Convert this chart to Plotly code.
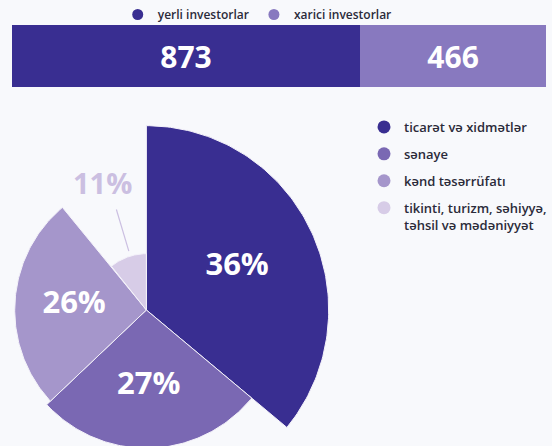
import numpy as np
import plotly.graph_objects as go

# ---- data ----
investor_labels = ["yerli investorlar", "xarici investorlar"]
investor_values = [873, 466]

sector_labels = ["ticarət və xidmətlər", "sənaye", "kənd təsərrüfatı",
                 "tikinti, turizm, səhiyyə,<br>təhsil və mədəniyyət"]
sector_values = [36, 27, 26, 11]

# ---- styles ----
investor_colors = ["#392e91", "#8879bf"]
sector_colors = ["#392e91", "#7a68b3", "#a596cb", "#d7cce7"]
label_colors = ["#ffffff", "#ffffff", "#ffffff", "#cbbfe1"]
BG = "#f8f9fc"
FONT = "Open Sans"

W, H = 552, 446
PX = 5.12            # pixels per radial unit of the pie
CX, CY = 148, 310    # pie centre in pixels (from top-left)

fig = go.Figure()

# ---- top stacked bar ----
for lab, val, col in zip(investor_labels, investor_values, investor_colors):
    fig.add_trace(go.Bar(
        x=[val], y=[0], orientation="h", marker=dict(color=col, line=dict(width=0)),
        text=[str(val)], textposition="inside", insidetextanchor="middle",
        textfont=dict(family=FONT, size=30, color="white", weight=700),
        xaxis="x", yaxis="y", showlegend=False, hoverinfo="skip"))
    fig.add_trace(go.Scatter(
        x=[None], y=[None], mode="markers", name=lab,
        marker=dict(color=col, size=11, symbol="circle"),
        xaxis="x", yaxis="y", legend="legend"))

# ---- variable-radius pie ----
total = sum(sector_values)
cum = np.concatenate([[0], np.cumsum(sector_values)]) / total * 360.0
for i, (lab, val, col) in enumerate(zip(sector_labels, sector_values, sector_colors)):
    a0, a1 = cum[i], cum[i + 1]
    th = np.radians(np.linspace(a0, a1, 120))
    r = val
    xs = np.concatenate([[0], r * np.sin(th), [0]])
    ys = np.concatenate([[0], r * np.cos(th), [0]])
    fig.add_trace(go.Scatter(
        x=xs, y=ys, mode="lines", fill="toself", fillcolor=col,
        line=dict(color="#f4f2fa", width=1), xaxis="x2", yaxis="y2",
        showlegend=False, hoverinfo="skip"))
    fig.add_trace(go.Scatter(
        x=[None], y=[None], mode="markers", name=lab, legendgroup=f"g{i}",
        marker=dict(color=col, size=13, symbol="circle"),
        xaxis="x2", yaxis="y2", legend="legend2"))

# labels
for i, val in enumerate(sector_values):
    mid = np.radians((cum[i] + cum[i + 1]) / 2)
    txt = f"{val}%"
    if val >= 15:
        rl = val * 0.55
        fig.add_trace(go.Scatter(
            x=[rl * np.sin(mid)], y=[rl * np.cos(mid)], mode="text", text=[txt],
            textfont=dict(family=FONT, size=31, color=label_colors[i], weight=700),
            xaxis="x2", yaxis="y2", showlegend=False, hoverinfo="skip"))
    else:
        ang = mid + np.radians(3)
        r_in, r_out, r_lab = val + 1.0, val + 9.5, val + 14.5
        fig.add_trace(go.Scatter(
            x=[r_in * np.sin(ang), r_out * np.sin(ang)],
            y=[r_in * np.cos(ang), r_out * np.cos(ang)],
            mode="lines", line=dict(color=label_colors[i], width=1.2),
            xaxis="x2", yaxis="y2", showlegend=False, hoverinfo="skip"))
        fig.add_trace(go.Scatter(
            x=[r_lab * np.sin(mid)], y=[r_lab * np.cos(mid)], mode="text", text=[txt],
            textfont=dict(family=FONT, size=29, color=label_colors[i], weight=700),
            xaxis="x2", yaxis="y2", showlegend=False, hoverinfo="skip"))

noax = dict(visible=False, showgrid=False, zeroline=False, fixedrange=True)
fig.update_layout(
    width=W, height=H, margin=dict(l=0, r=0, t=0, b=0),
    paper_bgcolor=BG, plot_bgcolor="rgba(0,0,0,0)",
    barmode="stack", bargap=0,
    xaxis=dict(domain=[12 / W, 1], range=[0, sum(investor_values)], anchor="y", **noax),
    yaxis=dict(domain=[(H - 87) / H, (H - 25) / H], range=[-0.5, 0.5], anchor="x", **noax),
    xaxis2=dict(domain=[0, 1], range=[-CX / PX, (W - CX) / PX], anchor="y2", **noax),
    yaxis2=dict(domain=[0, 1], range=[-(H - CY) / PX, CY / PX], anchor="x2", **noax),
    legend=dict(orientation="h", x=119 / W, y=1.0, xanchor="left", yanchor="top",
                traceorder="normal",
                bgcolor="rgba(0,0,0,0)", font=dict(family=FONT, size=12, color="#2b2b3a", weight=600),
                itemwidth=30),
    legend2=dict(orientation="v", x=368 / W, y=(H - 112) / H, xanchor="left", yanchor="top",
                 traceorder="grouped", valign="top",
                 bgcolor="rgba(0,0,0,0)", font=dict(family=FONT, size=13, color="#2b2b3a", weight=600),
                 itemwidth=30, tracegroupgap=7),
    showlegend=True,
    hovermode=False,
)

fig.write_html("out.html", config={"displayModeBar": False, "staticPlot": True},
               post_script="document.body.style.margin='0';")
